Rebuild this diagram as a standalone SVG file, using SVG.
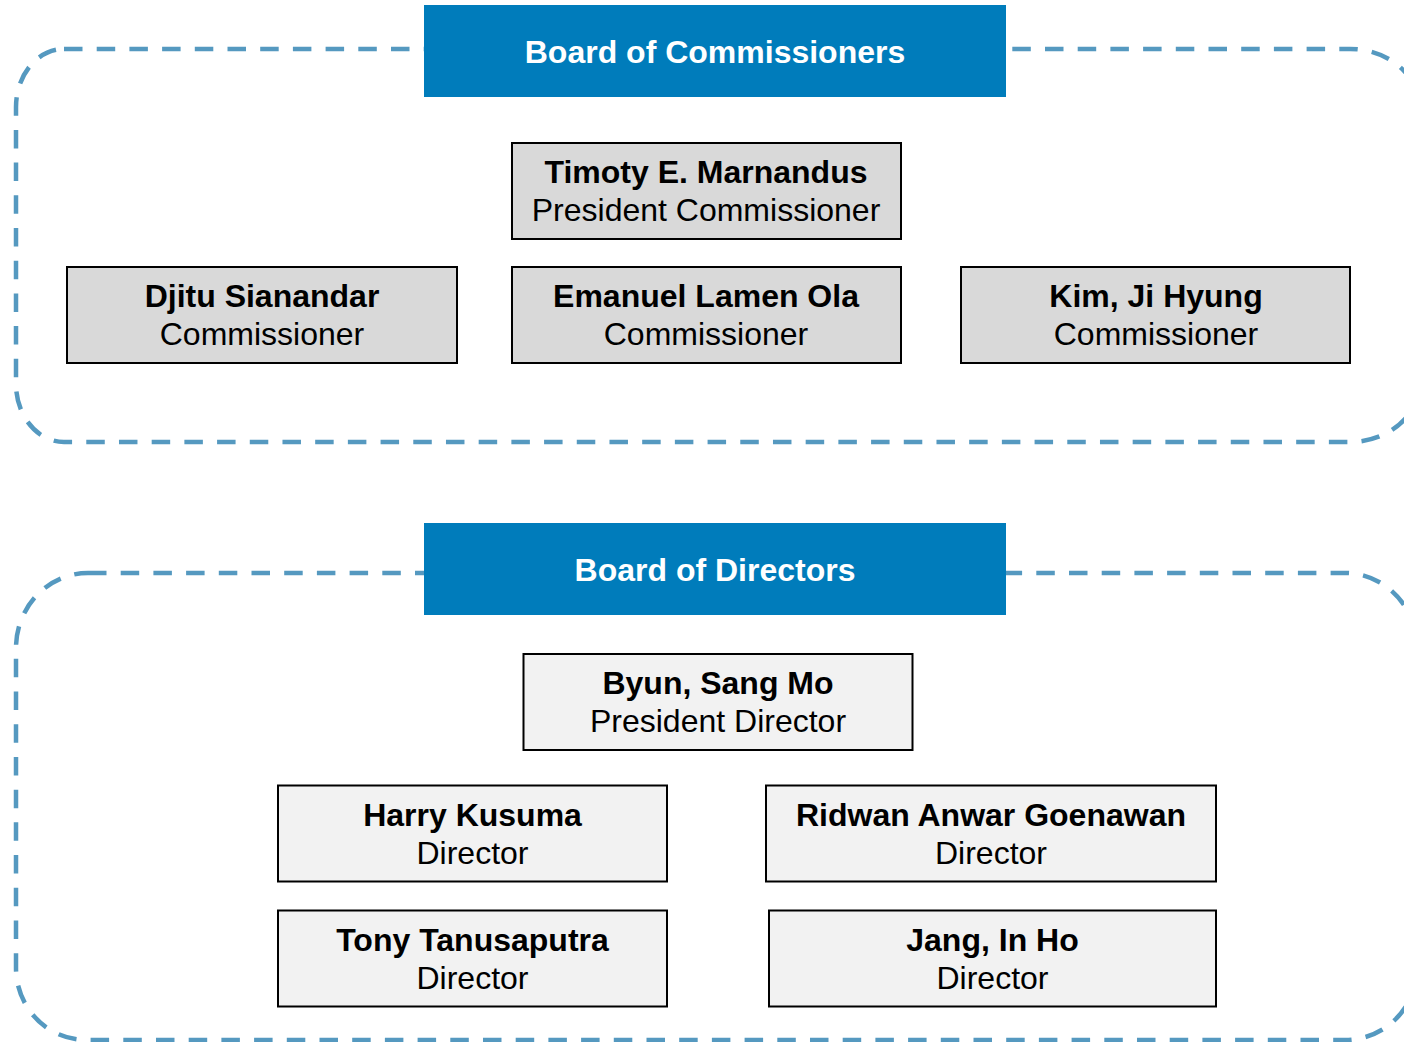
<svg xmlns="http://www.w3.org/2000/svg" width="1404" height="1042" viewBox="0 0 1404 1042">
<style>
.frame{fill:none;stroke:#5599c0;stroke-width:4.5;stroke-dasharray:18.5 14.2}
.hdr{fill:#007cbb}
.hdrt{fill:#ffffff;font-family:"Liberation Sans",Arial,sans-serif;font-weight:bold;font-size:32px;text-anchor:middle}
.com{fill:#d9d9d9;stroke:#000;stroke-width:2}
.dir{fill:#f2f2f2;stroke:#000;stroke-width:2}
.nm{fill:#000;font-family:"Liberation Sans",Arial,sans-serif;font-weight:bold;font-size:32px;text-anchor:middle}
.rl{fill:#000;font-family:"Liberation Sans",Arial,sans-serif;font-size:32px;text-anchor:middle}
</style>
<rect width="1404" height="1042" fill="#ffffff"/>
<g id="frames">
<path class="frame" d="M 64 49 H 1350 A 70 60 0 0 1 1420 109 V 382 A 70 60 0 0 1 1350 442 H 64 A 48 58 0 0 1 16 384 V 107 A 48 58 0 0 1 64 49 Z"/>
<path class="frame" d="M 88 573 H 1345 A 72 75 0 0 1 1417 648 V 968 A 72 72 0 0 1 1345 1040 H 86 A 70 72 0 0 1 16 968 V 648 A 72 75 0 0 1 88 573 Z"/>
</g>
<g id="connectors"></g>
<g id="board-commissioners">
<rect class="hdr" x="424" y="5" width="582" height="92"/>
<text class="hdrt" x="715" y="63">Board of Commissioners</text>
</g>
<g id="timoty">
<rect class="com" x="512" y="143" width="389" height="96"/>
<text class="nm" x="706" y="183">Timoty E. Marnandus</text>
<text class="rl" x="706" y="221">President Commissioner</text>
</g>
<g id="djitu">
<rect class="com" x="67" y="267" width="390" height="96"/>
<text class="nm" x="262" y="307">Djitu Sianandar</text>
<text class="rl" x="262" y="345">Commissioner</text>
</g>
<g id="emanuel">
<rect class="com" x="512" y="267" width="389" height="96"/>
<text class="nm" x="706" y="307">Emanuel Lamen Ola</text>
<text class="rl" x="706" y="345">Commissioner</text>
</g>
<g id="kim">
<rect class="com" x="961" y="267" width="389" height="96"/>
<text class="nm" x="1156" y="307">Kim, Ji Hyung</text>
<text class="rl" x="1156" y="345">Commissioner</text>
</g>
<g id="board-directors">
<rect class="hdr" x="424" y="523" width="582" height="92"/>
<text class="hdrt" x="715" y="581">Board of Directors</text>
</g>
<g id="byun">
<rect class="dir" x="523.5" y="654" width="389" height="96"/>
<text class="nm" x="718" y="694">Byun, Sang Mo</text>
<text class="rl" x="718" y="732">President Director</text>
</g>
<g id="harry">
<rect class="dir" x="278" y="785.5" width="389" height="96"/>
<text class="nm" x="472.5" y="826">Harry Kusuma</text>
<text class="rl" x="472.5" y="864">Director</text>
</g>
<g id="ridwan">
<rect class="dir" x="766" y="785.5" width="450" height="96"/>
<text class="nm" x="991" y="826">Ridwan Anwar Goenawan</text>
<text class="rl" x="991" y="864">Director</text>
</g>
<g id="tony">
<rect class="dir" x="278" y="910.5" width="389" height="96"/>
<text class="nm" x="472.5" y="951">Tony Tanusaputra</text>
<text class="rl" x="472.5" y="989">Director</text>
</g>
<g id="jang">
<rect class="dir" x="769" y="910.5" width="447" height="96"/>
<text class="nm" x="992.5" y="951">Jang, In Ho</text>
<text class="rl" x="992.5" y="989">Director</text>
</g>
</svg>
